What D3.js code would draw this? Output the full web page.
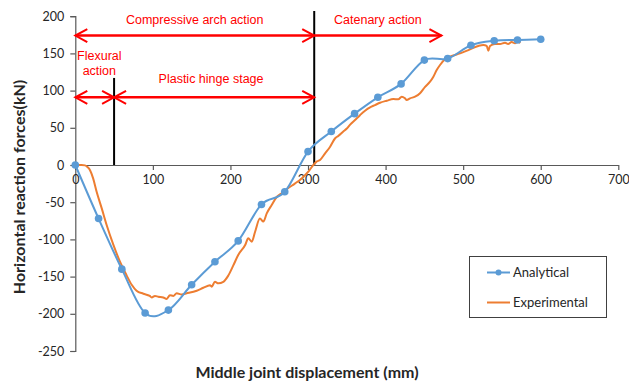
<!DOCTYPE html>
<html>
<head>
<meta charset="utf-8">
<script src="https://cdn.jsdelivr.net/npm/d3@7"></script>
<style>
  body { margin: 0; background: #fff; }
</style>
</head>
<body>
<div class="reaction-plot"></div>
<script>
  // values
  const analyticalX = [0, 30, 60, 90, 120, 150, 180, 210, 240, 270, 300, 330, 360, 390, 420, 450, 480, 510, 540, 570, 600];
  const analyticalY = [0, -72, -140, -199, -195, -161, -130, -102, -53, -36, 18, 45, 69, 91, 109, 141, 143, 161, 167, 168, 169];

  const experimentalX = [0, 8, 12.5, 16, 19, 23, 27.5, 34, 40.5, 49, 57.6, 66, 72.7, 79, 87.7, 96, 98.5, 102.7, 107, 113.4, 117.8,
    122, 126.3, 130.7, 137, 143.6, 156.5, 165, 173.6, 175.8, 180, 184.4, 190.8, 197, 203.7, 210, 219, 223, 227.5, 231.7,
    238, 242.4, 246.8, 253, 259.6, 266, 274.6, 283, 291.8, 300.4, 306.8, 311, 315.5, 322, 328.5, 335, 339, 345.5, 350,
    354, 360.6, 367, 373.5, 380, 386.4, 392.8, 401.4, 410, 416.4, 420.8, 425, 427.2, 431.5, 438, 444.4, 450.9, 457.3,
    461.6, 465.9, 470.2, 476.6, 483, 496, 508.8, 519.5, 526, 530.3, 532.5, 534.6, 541, 547.5, 554, 558, 562.5, 566.8,
    571, 573.3];
  const experimentalY = [0, 0, -0.5, -3, -7, -18, -36, -58, -81, -107, -130, -148, -161, -169, -173, -176, -178, -176, -177, -178, -180,
    -175, -176, -172.5, -174, -172.5, -169, -165, -161.5, -163.5, -157, -159, -157, -149, -135, -121, -107.5, -98.5, -103, -90,
    -72, -76, -65, -54, -43, -38, -31, -25, -18, -9, 0, 4.5, 6.7, 15.7, 24.6, 36, 39, 45, 49,
    54, 60.5, 67, 73, 77.5, 80.6, 83.7, 86.4, 88.7, 88.3, 91.8, 89.6, 87.4, 89.6, 91.8, 96.4, 105, 112,
    118.7, 127.7, 134.4, 142, 145.6, 150, 155.5, 160, 161.3, 160, 153.6, 160, 162.6, 162.6, 164.4, 162.6, 165.3, 163.6,
    166.3, 163.6];

  const xTicks = [0, 100, 200, 300, 400, 500, 600, 700];
  const yTicks = [-250, -200, -150, -100, -50, 0, 50, 100, 150, 200];
  const seriesNames = ["Analytical", "Experimental"];

  // stage boundaries (mm) and the arrows between them
  const stageLines = [50, 308];
  const stageLineTops = [117, 207];
  const arrowStarts = [0, 308, 0, 50];
  const arrowEnds = [308, 472, 50, 308];
  const arrowLevels = [174, 174, 91, 91];
  const arrowBothEnds = [true, false, true, true];
  const stageLabels = ["Compressive arch action", "Catenary action", "Flexural", "action", "Plastic hinge stage"];
  const stageLabelX = [154, 390, 31, 31, 175];
  const stageLabelY = [189, 189, 141, 121, 110];

  const render = () => {
    const width = 629;
    const height = 383;
    const blue = "#5B9BD5";
    const orange = "#ED7D31";
    const axisColor = "#595959";
    const textColor = "#262626";

    const svg = d3.select('.reaction-plot')
      .append("svg")
      .attr("width", width)
      .attr("height", height);

    const x = d3.scaleLinear()
      .domain([0, 700])
      .range([75.3, 618.3]);

    const y = d3.scaleLinear()
      .domain([-250, 200])
      .range([351, 16.2]);

    // y axis
    const yAxis = svg.append("g")
      .attr("transform", `translate(${x(0)},0)`)
      .call(d3.axisLeft(y).tickValues(yTicks).tickFormat(d => String(d)).tickSize(5).tickPadding(6));
    yAxis.select(".domain").attr("stroke", axisColor).attr("stroke-width", 1.2);
    yAxis.selectAll(".tick line").attr("stroke", axisColor).attr("stroke-width", 1.2);
    yAxis.selectAll(".tick text")
      .attr("font-family", "Lato, sans-serif")
      .attr("font-size", "12.5px")
      .attr("fill", textColor);

    // x axis sits on zero
    const xAxis = svg.append("g")
      .attr("transform", `translate(0,${y(0)})`)
      .call(d3.axisBottom(x).tickValues(xTicks).tickFormat(d => String(d)).tickSize(5).tickPadding(5).tickSizeOuter(0));
    xAxis.select(".domain").attr("stroke", axisColor).attr("stroke-width", 1.2);
    xAxis.selectAll(".tick line").attr("stroke", axisColor).attr("stroke-width", 1.2);
    xAxis.selectAll(".tick text")
      .attr("font-family", "Lato, sans-serif")
      .attr("font-size", "12.5px")
      .attr("fill", textColor);

    // axis titles
    svg.append("text")
      .attr("x", 307)
      .attr("y", 378)
      .attr("text-anchor", "middle")
      .attr("font-family", "Lato, sans-serif")
      .attr("font-weight", "bold")
      .attr("font-size", "16px")
      .attr("fill", textColor)
      .text("Middle joint displacement (mm)");

    svg.append("text")
      .attr("transform", "translate(25,187) rotate(-90)")
      .attr("text-anchor", "middle")
      .attr("font-family", "Lato, sans-serif")
      .attr("font-weight", "bold")
      .attr("font-size", "16px")
      .attr("fill", textColor)
      .text("Horizontal reaction forces(kN)");

    // black stage lines
    svg.selectAll(".stage-line")
      .data(stageLines)
      .enter()
      .append("line")
      .attr("class", "stage-line")
      .attr("x1", d => x(d))
      .attr("x2", d => x(d))
      .attr("y1", y(0))
      .attr("y2", (d, i) => y(stageLineTops[i]))
      .attr("stroke", "#000")
      .attr("stroke-width", 2);

    // red arrows
    const arrows = arrowStarts.map((s, i) => ({ x0: s, x1: arrowEnds[i], v: arrowLevels[i], both: arrowBothEnds[i] }));
    const headLen = 12;
    const headHalf = 6.5;

    arrows.forEach(a => {
      const px0 = x(a.x0), px1 = x(a.x1), py = y(a.v);
      svg.append("line")
        .attr("x1", px0).attr("x2", px1)
        .attr("y1", py).attr("y2", py)
        .attr("stroke", "#FF0000")
        .attr("stroke-width", 2.6);
      svg.append("path")
        .attr("d", `M${px1 - headLen},${py - headHalf}L${px1},${py}L${px1 - headLen},${py + headHalf}`)
        .attr("fill", "none")
        .attr("stroke", "#FF0000")
        .attr("stroke-width", 2);
      if (a.both) {
        svg.append("path")
          .attr("d", `M${px0 + headLen},${py - headHalf}L${px0},${py}L${px0 + headLen},${py + headHalf}`)
          .attr("fill", "none")
          .attr("stroke", "#FF0000")
          .attr("stroke-width", 2);
      }
    });

    svg.selectAll(".stage-label")
      .data(stageLabels)
      .enter()
      .append("text")
      .attr("class", "stage-label")
      .attr("x", (d, i) => x(stageLabelX[i]))
      .attr("y", (d, i) => y(stageLabelY[i]))
      .attr("text-anchor", "middle")
      .attr("font-family", "'Liberation Sans', Arial, sans-serif")
      .attr("font-size", "12.5px")
      .attr("fill", "#FF0000")
      .text(d => d);

    // experimental curve
    const expData = experimentalX.map((v, i) => [v, experimentalY[i]]);
    svg.append("path")
      .datum(expData)
      .attr("fill", "none")
      .attr("stroke", orange)
      .attr("stroke-width", 2)
      .attr("stroke-linejoin", "round")
      .attr("d", d3.line().x(d => x(d[0])).y(d => y(d[1])).curve(d3.curveMonotoneX));

    // analytical curve (smoothed like the spreadsheet)
    const anaData = analyticalX.map((v, i) => [v, analyticalY[i]]);
    svg.append("path")
      .datum(anaData)
      .attr("fill", "none")
      .attr("stroke", blue)
      .attr("stroke-width", 2)
      .attr("d", d3.line().x(d => x(d[0])).y(d => y(d[1])).curve(d3.curveCardinal.tension(0)));

    svg.selectAll(".ana-dot")
      .data(anaData)
      .enter()
      .append("circle")
      .attr("class", "ana-dot")
      .attr("cx", d => x(d[0]))
      .attr("cy", d => y(d[1]))
      .attr("r", 3.8)
      .attr("fill", blue);

    // legend
    const legend = svg.append("g");
    legend.append("rect")
      .attr("x", 469.5)
      .attr("y", 256.5)
      .attr("width", 137)
      .attr("height", 61)
      .attr("fill", "#fff")
      .attr("stroke", "#404040")
      .attr("stroke-width", 1);

    const legendColors = [blue, orange];
    const legendY = [272.5, 302.5];
    seriesNames.forEach((name, i) => {
      legend.append("line")
        .attr("x1", 487).attr("x2", 510)
        .attr("y1", legendY[i]).attr("y2", legendY[i])
        .attr("stroke", legendColors[i])
        .attr("stroke-width", 2);
      if (i == 0) {
        legend.append("circle")
          .attr("cx", 498.5).attr("cy", legendY[i])
          .attr("r", 3)
          .attr("fill", blue);
      }
      legend.append("text")
        .attr("x", 513)
        .attr("y", legendY[i] + 4.5)
        .attr("font-family", "Lato, sans-serif")
        .attr("font-size", "13px")
        .attr("fill", textColor)
        .text(name);
    });
  }

  render();
</script>
</body>
</html>
